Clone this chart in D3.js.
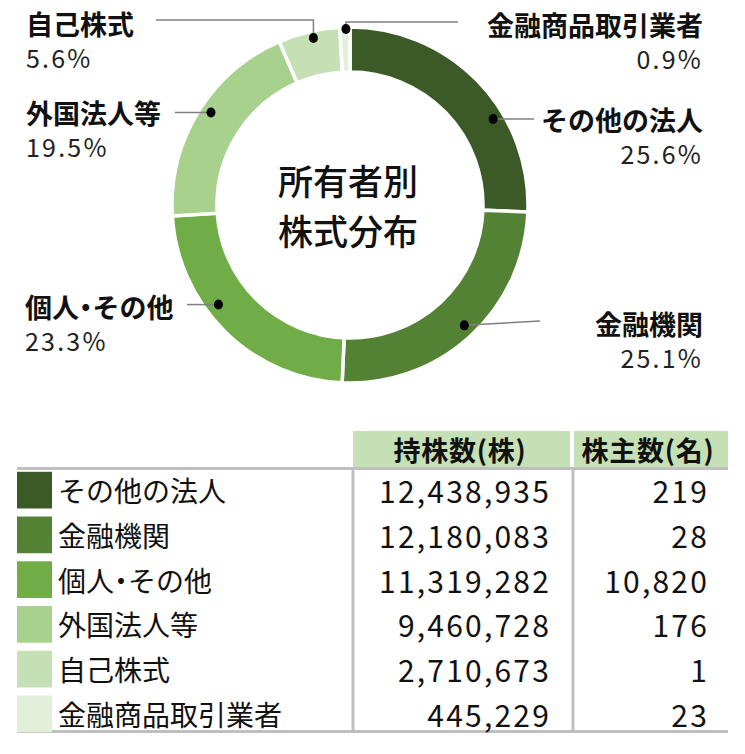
<!DOCTYPE html>
<html>
<head>
<meta charset="utf-8">
<script src="https://cdn.jsdelivr.net/npm/d3@7"></script>
<style>
  body { margin: 0; background: #fff; }
  svg { display: block; font-family: "Noto Sans CJK JP", "Noto Sans", sans-serif; }
  .narrow { font-feature-settings: "palt"; }
</style>
</head>
<body>
<div id="chart"></div>
<script>
// data
const categories = ["その他の法人", "金融機関", "個人・その他", "外国法人等", "自己株式", "金融商品取引業者"];
const shares = [12438935, 12180083, 11319282, 9460728, 2710673, 445229];   // 持株数(株)
const holders = [219, 28, 10820, 176, 1, 23];                              // 株主数(名)
const headers = ["持株数(株)", "株主数(名)"];
const centerTitle = ["所有者別", "株式分布"];
const colors = ["#3b5a27", "#548235", "#70ad47", "#a9d18e", "#c5e0b4", "#e2f0d9"];

// where each callout sits (layout only)
// t = how far along the slice the dot is, r = dot radius
const callouts = [
  { t: 0.64, r: 167, side: "right", x: 703, y: 119, lineTo: 534 },
  { t: 0.49, r: 166, side: "right", x: 703, y: 323, lineTo: 540, lineY: 321 },
  { t: 0.6,  r: 165, side: "left",  x: 25,  y: 306, lineTo: 187 },
  { t: 0.53, r: 167, side: "left",  x: 26,  y: 112, lineTo: 175 },
  { t: 0.55, r: 171, side: "left",  x: 26,  y: 23,  lineTo: 156, elbow: 20 },
  { t: 0.6,  r: 176, side: "right", x: 703, y: 24,  lineTo: 458, elbow: 22 }
];

const width = 745, height = 754;
const cx = 350, cy = 205;
const rOuter = 178, rInner = 133;

const svg = d3.select("#chart").append("svg")
  .attr("width", width)
  .attr("height", height)
  .attr("viewBox", [0, 0, width, height]);

svg.append("rect").attr("width", width).attr("height", height).attr("fill", "#fff");

const total = d3.sum(shares);
const pct = v => (v / total * 100).toFixed(1) + "%";

// writes a label, the middle dot set proportional so it sits tight like the original
function writeLabel(sel, str) {
  str.split(/(・)/).forEach(part => {
    if (!part) return;
    sel.append("tspan")
      .attr("class", part === "・" ? "narrow" : null)
      .text(part);
  });
}

//donut
const pie = d3.pie().sort(null).value(d => d);
const arcs = pie(shares);
const arc = d3.arc().innerRadius(rInner).outerRadius(rOuter);

const donut = svg.append("g").attr("transform", `translate(${cx},${cy})`);

donut.selectAll("path.slice")
  .data(arcs)
  .join("path")
  .attr("class", "slice")
  .attr("d", arc)
  .attr("fill", (d, i) => colors[i])
  .attr("stroke", "#fff")
  .attr("stroke-width", 3.5)
  .attr("stroke-linejoin", "miter");

// title in the hole
donut.selectAll("text.title")
  .data(centerTitle)
  .join("text")
  .attr("class", "title")
  .attr("x", -2)
  .attr("y", (d, i) => -26 + i * 50)
  .attr("text-anchor", "middle")
  .attr("dominant-baseline", "central")
  .attr("font-size", 35)
  .attr("font-weight", 500)
  .attr("fill", "#111")
  .text(d => d);

// callouts: leader line, dot, name, percentage
const labels = svg.append("g");

arcs.forEach((a, i) => {
  const c = callouts[i];
  const ang = a.startAngle + c.t * (a.endAngle - a.startAngle);
  const dx = cx + c.r * Math.sin(ang);
  const dy = cy - c.r * Math.cos(ang);

  let pts;
  if (c.elbow !== undefined) {
    pts = [[dx, dy], [dx, c.elbow], [c.lineTo, c.elbow]];
  } else {
    pts = [[dx, dy], [c.lineTo, c.lineY !== undefined ? c.lineY : dy]];
  }
  labels.append("path")
    .attr("d", d3.line()(pts))
    .attr("fill", "none")
    .attr("stroke", "#7f7f7f")
    .attr("stroke-width", 1.5);

  labels.append("ellipse")
    .attr("cx", dx).attr("cy", dy)
    .attr("rx", 4.5).attr("ry", 5)
    .attr("fill", "#000");

  const anchor = c.side === "right" ? "end" : "start";
  const name = labels.append("text")
    .attr("x", c.x).attr("y", c.y)
    .attr("text-anchor", anchor)
    .attr("dominant-baseline", "central")
    .attr("font-size", 27)
    .attr("font-weight", "bold")
    .attr("fill", "#111");
  writeLabel(name, categories[i]);

  labels.append("text")
    .attr("x", c.x).attr("y", c.y + 34)
    .attr("text-anchor", anchor)
    .attr("dominant-baseline", "central")
    .attr("font-size", 25)
    .attr("letter-spacing", 2.2)
    .attr("fill", "#222")
    .text(pct(shares[i]));
});

// table
const table = svg.append("g");
const left = 17, col1 = 353, col2 = 573, right = 728;
const headTop = 431, headBottom = 467;

const y = d3.scaleBand()
  .domain(categories)
  .range([470, 734])
  .paddingInner(0.18)
  .paddingOuter(0.04);

// header cells
table.selectAll("rect.head")
  .data(headers)
  .join("rect")
  .attr("class", "head")
  .attr("x", (d, i) => i === 0 ? col1 : col2 + 1)
  .attr("y", headTop)
  .attr("width", (d, i) => i === 0 ? col2 - col1 - 3 : right - col2 - 1)
  .attr("height", headBottom - headTop)
  .attr("fill", "#c5e0b4");

table.selectAll("text.head")
  .data(headers)
  .join("text")
  .attr("class", "head")
  .attr("x", (d, i) => i === 0 ? 460 : 648)
  .attr("y", 449)
  .attr("text-anchor", "middle")
  .attr("dominant-baseline", "central")
  .attr("font-size", 27)
  .attr("font-weight", "bold")
  .attr("letter-spacing", 0.8)
  .attr("fill", "#111")
  .text(d => d);

// rule lines
table.append("line")
  .attr("x1", left).attr("x2", right)
  .attr("y1", 468.5).attr("y2", 468.5)
  .attr("stroke", "#bfbfbf").attr("stroke-width", 3);
table.append("line")
  .attr("x1", left).attr("x2", right)
  .attr("y1", 731.5).attr("y2", 731.5)
  .attr("stroke", "#bfbfbf").attr("stroke-width", 3);
[col1, col2].forEach(xv => {
  table.append("line")
    .attr("x1", xv).attr("x2", xv)
    .attr("y1", 468).attr("y2", 731)
    .attr("stroke", "#bfbfbf").attr("stroke-width", 3);
});

// rows
const rows = table.selectAll("g.row")
  .data(categories)
  .join("g")
  .attr("class", "row")
  .attr("transform", d => `translate(0,${y(d) + y.bandwidth() / 2})`);

rows.append("rect")
  .attr("x", left)
  .attr("y", -y.bandwidth() / 2)
  .attr("width", 35)
  .attr("height", y.bandwidth())
  .attr("fill", (d, i) => colors[i]);

rows.append("text")
  .attr("x", 58)
  .attr("dominant-baseline", "central")
  .attr("font-size", 28)
  .attr("fill", "#111")
  .each(function (d) { writeLabel(d3.select(this), d); });

const fmt = d3.format(",");

rows.append("text")
  .attr("x", 551)
  .attr("text-anchor", "end")
  .attr("dominant-baseline", "central")
  .attr("font-size", 30)
  .attr("letter-spacing", 2.2)
  .attr("fill", "#111")
  .text((d, i) => fmt(shares[i]));

rows.append("text")
  .attr("x", 709)
  .attr("text-anchor", "end")
  .attr("dominant-baseline", "central")
  .attr("font-size", 30)
  .attr("letter-spacing", 2.2)
  .attr("fill", "#111")
  .text((d, i) => fmt(holders[i]));
</script>
</body>
</html>
